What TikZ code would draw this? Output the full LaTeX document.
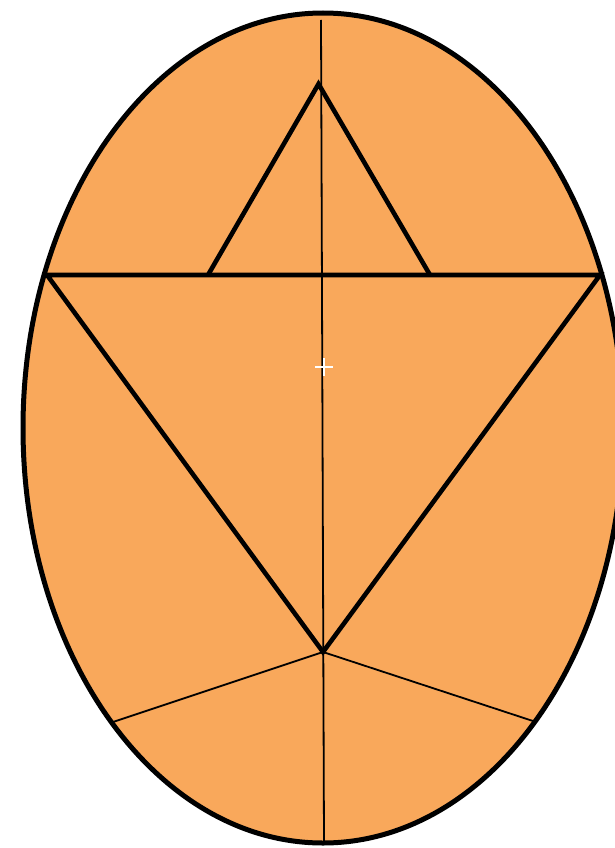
\documentclass[tikz,border=0pt]{standalone}
\usetikzlibrary{calc}
\begin{document}
\begin{tikzpicture}[x=1pt,y=-1pt,
  thickline/.style={line width=4.6pt,line join=miter,line cap=butt},
  thinline/.style={line width=1.8pt},
  plusline/.style={white,line width=2pt}]
\definecolor{orangefill}{RGB}{249,168,91}
\clip (0,0) rectangle (615,848);
\useasboundingbox (0,0) rectangle (615,848);
% ellipse
\coordinate (c) at (323,428);
\fill[orangefill] (c) ellipse [x radius=300, y radius=415];
% coordinates
\coordinate (vt) at (321,20);
\coordinate (vb) at (324,843);
\coordinate (L) at (47,275);
\coordinate (R) at (600,275);
\coordinate (B) at (323,652);
\coordinate (apex) at (318.5,84);
\coordinate (sl) at (208,275);
\coordinate (sr) at (430,275);
\coordinate (ll) at (113,722);
\coordinate (lr) at (536,722);
\coordinate (p) at (324,367);
% thin lines
\draw[thinline] (vt) -- (vb);
\draw[thinline] (B) -- (ll);
\draw[thinline] (B) -- (lr);
% triangles
\draw[thickline] (sl) -- (apex) -- (sr);
\draw[thickline] (L) -- (R) -- (B) -- cycle;
% plus
\draw[plusline] ($(p)+(-9,0)$) -- ($(p)+(9,0)$);
\draw[plusline] ($(p)+(0,-9)$) -- ($(p)+(0,9)$);
% outline
\draw[line width=5pt] (c) ellipse [x radius=300, y radius=415];
\end{tikzpicture}
\end{document}
